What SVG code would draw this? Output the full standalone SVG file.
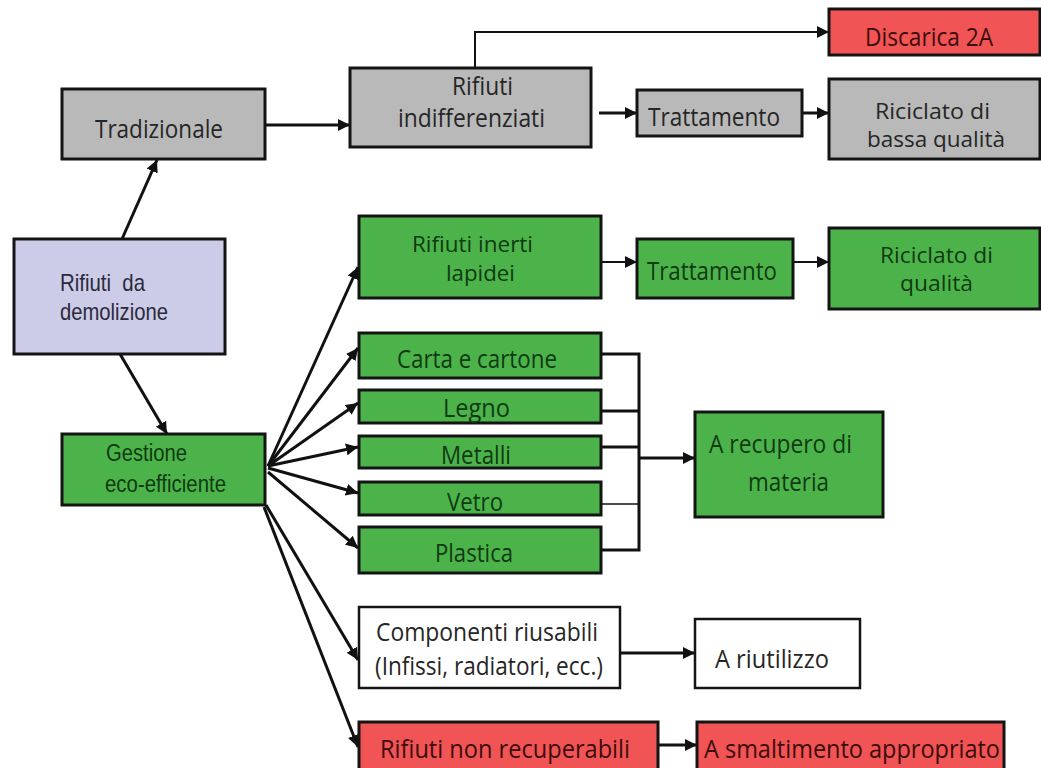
<svg xmlns="http://www.w3.org/2000/svg" width="1041" height="768" viewBox="0 0 1041 768">
<defs>
<marker id="ah" markerUnits="userSpaceOnUse" markerWidth="14" markerHeight="12" refX="12" refY="6" orient="auto">
<path d="M0,0 L12,6 L0,12 Z" fill="#111"/>
</marker>
<style>
.box{stroke:#141414;stroke-width:3}
.grey{fill:#b9b9b9}
.green{fill:#4cb34a}
.red{fill:#f05454}
.lav{fill:#cccbe8}
.white{fill:#ffffff;stroke-width:2.5}
text{font-family:"Open Sans","Liberation Sans",sans-serif;font-size:25px;fill:#262626}
.gt{fill:#103a12}
.rt{fill:#3d0c0c}
.two{font-size:22px}
.lt{font-family:"Liberation Sans","Arial",sans-serif;font-size:24px;fill:#2a2a3a}
.gl{font-family:"Liberation Sans","Arial",sans-serif;font-size:23px;fill:#103a12}
.c{fill:none;stroke:#111;stroke-width:3}
.thin{stroke-width:2}
.hair{stroke-width:1.5}
</style>
</defs>
<rect width="1041" height="768" fill="#ffffff"/>

<g id="connectors">
<path class="c thin" d="M475,68 V32 H829" marker-end="url(#ah)"/>
<path class="c" d="M265,125 H350" marker-end="url(#ah)"/>
<path class="c" d="M599,113 H637" marker-end="url(#ah)"/>
<path class="c" d="M802,113 H829" marker-end="url(#ah)"/>
<path class="c" d="M122,239 L157,160" marker-end="url(#ah)"/>
<path class="c" d="M120,354 L167,434" marker-end="url(#ah)"/>
<path class="c thin" d="M601,262 H637" marker-end="url(#ah)"/>
<path class="c thin" d="M793,262 H829" marker-end="url(#ah)"/>
<path class="c" d="M268,466 L358,267" marker-end="url(#ah)"/>
<path class="c" d="M268,466 L358,348" marker-end="url(#ah)"/>
<path class="c" d="M268,466 L358,403" marker-end="url(#ah)"/>
<path class="c" d="M268,466 L358,447" marker-end="url(#ah)"/>
<path class="c" d="M268,468 L358,493" marker-end="url(#ah)"/>
<path class="c" d="M268,472 L358,548" marker-end="url(#ah)"/>
<path class="c" d="M266,505 L358,660" marker-end="url(#ah)"/>
<path class="c" d="M264,507 L358,747" marker-end="url(#ah)"/>
<path class="c" d="M601,354 H639 V550 H601 M601,411 H639 M601,447 H639"/>
<path class="c hair" d="M601,504 H639"/>
<path class="c" d="M639,458 H695" marker-end="url(#ah)"/>
<path class="c" d="M620,653 H695" marker-end="url(#ah)"/>
<path class="c" d="M648,745 H697" marker-end="url(#ah)"/>
</g>

<g id="tradizionale">
<rect class="box grey" x="62" y="89" width="203" height="70"/>
<text x="95" y="138" textLength="128" lengthAdjust="spacingAndGlyphs" font-size="26">Tradizionale</text>
</g>
<g id="rifiuti-indifferenziati">
<rect class="box grey" x="350" y="68" width="241" height="79"/>
<text x="452" y="95" textLength="61" lengthAdjust="spacingAndGlyphs" font-size="20">Rifiuti</text>
<text x="398" y="127" textLength="147" lengthAdjust="spacingAndGlyphs" font-size="20">indifferenziati</text>
</g>
<g id="discarica">
<rect class="box red" x="829" y="9" width="211" height="46"/>
<text class="rt" x="865" y="46" textLength="128" lengthAdjust="spacingAndGlyphs">Discarica 2A</text>
</g>
<g id="trattamento-grey">
<rect class="box grey" x="637" y="90" width="165" height="46"/>
<text x="648" y="126" textLength="132" lengthAdjust="spacingAndGlyphs">Trattamento</text>
</g>
<g id="riciclato-bassa">
<rect class="box grey" x="829" y="79" width="211" height="80"/>
<text class="two" x="875" y="119" textLength="115" lengthAdjust="spacingAndGlyphs">Riciclato di</text>
<text class="two" x="867" y="147" textLength="138" lengthAdjust="spacingAndGlyphs">bassa qualità</text>
</g>
<g id="rifiuti-demolizione">
<rect class="box lav" x="14" y="239" width="211" height="115"/>
<text class="lt" x="60" y="291" textLength="85" lengthAdjust="spacingAndGlyphs" xml:space="preserve">Rifiuti  da</text>
<text class="lt" x="60" y="320" textLength="108" lengthAdjust="spacingAndGlyphs">demolizione</text>
</g>
<g id="rifiuti-inerti">
<rect class="box green" x="359" y="216" width="242" height="82"/>
<text class="gt two" x="412" y="252" textLength="121" lengthAdjust="spacingAndGlyphs">Rifiuti inerti</text>
<text class="gt two" x="446" y="281" textLength="69" lengthAdjust="spacingAndGlyphs">lapidei</text>
</g>
<g id="trattamento-green">
<rect class="box green" x="637" y="239" width="156" height="59"/>
<text class="gt" x="647" y="280" textLength="130" lengthAdjust="spacingAndGlyphs">Trattamento</text>
</g>
<g id="riciclato-qualita">
<rect class="box green" x="829" y="228" width="211" height="81"/>
<text class="gt two" x="880" y="263" textLength="113" lengthAdjust="spacingAndGlyphs">Riciclato di</text>
<text class="gt two" x="900" y="291" textLength="73" lengthAdjust="spacingAndGlyphs">qualità</text>
</g>
<g id="gestione">
<rect class="box green" x="62" y="434" width="203" height="71"/>
<text class="gl" x="106" y="461" textLength="81" lengthAdjust="spacingAndGlyphs">Gestione</text>
<text class="gl" x="105" y="492" textLength="121" lengthAdjust="spacingAndGlyphs">eco-efficiente</text>
</g>
<g id="carta">
<rect class="box green" x="359" y="333" width="242" height="45"/>
<text class="gt" x="397" y="368" textLength="160" lengthAdjust="spacingAndGlyphs">Carta e cartone</text>
</g>
<g id="legno">
<rect class="box green" x="359" y="390" width="242" height="33"/>
<text class="gt" x="443" y="417" textLength="67" lengthAdjust="spacingAndGlyphs">Legno</text>
</g>
<g id="metalli">
<rect class="box green" x="359" y="436" width="242" height="32"/>
<text class="gt" x="441" y="464" textLength="70" lengthAdjust="spacingAndGlyphs">Metalli</text>
</g>
<g id="vetro">
<rect class="box green" x="359" y="482" width="242" height="33"/>
<text class="gt" x="447" y="511" textLength="56" lengthAdjust="spacingAndGlyphs">Vetro</text>
</g>
<g id="plastica">
<rect class="box green" x="359" y="527" width="242" height="46"/>
<text class="gt" x="435" y="562" textLength="78" lengthAdjust="spacingAndGlyphs">Plastica</text>
</g>
<g id="recupero">
<rect class="box green" x="695" y="412" width="188" height="105"/>
<text class="gt" x="709" y="453" textLength="143" lengthAdjust="spacingAndGlyphs">A recupero di</text>
<text class="gt" x="748" y="491" textLength="81" lengthAdjust="spacingAndGlyphs">materia</text>
</g>
<g id="componenti">
<rect class="box white" x="359" y="607" width="261" height="81"/>
<text x="376" y="641" textLength="222" lengthAdjust="spacingAndGlyphs">Componenti riusabili</text>
<text x="375" y="675" textLength="228" lengthAdjust="spacingAndGlyphs">(Infissi, radiatori, ecc.)</text>
</g>
<g id="riutilizzo">
<rect class="box white" x="695" y="619" width="165" height="69"/>
<text x="715" y="668" textLength="114" lengthAdjust="spacingAndGlyphs">A riutilizzo</text>
</g>
<g id="non-recuperabili">
<rect class="box red" x="359" y="722" width="299" height="52"/>
<text class="rt" x="380" y="758" textLength="250" lengthAdjust="spacingAndGlyphs">Rifiuti non recuperabili</text>
</g>
<g id="smaltimento">
<rect class="box red" x="697" y="722" width="307" height="52"/>
<text class="rt" x="704" y="758" textLength="296" lengthAdjust="spacingAndGlyphs">A smaltimento appropriato</text>
</g>
</svg>
